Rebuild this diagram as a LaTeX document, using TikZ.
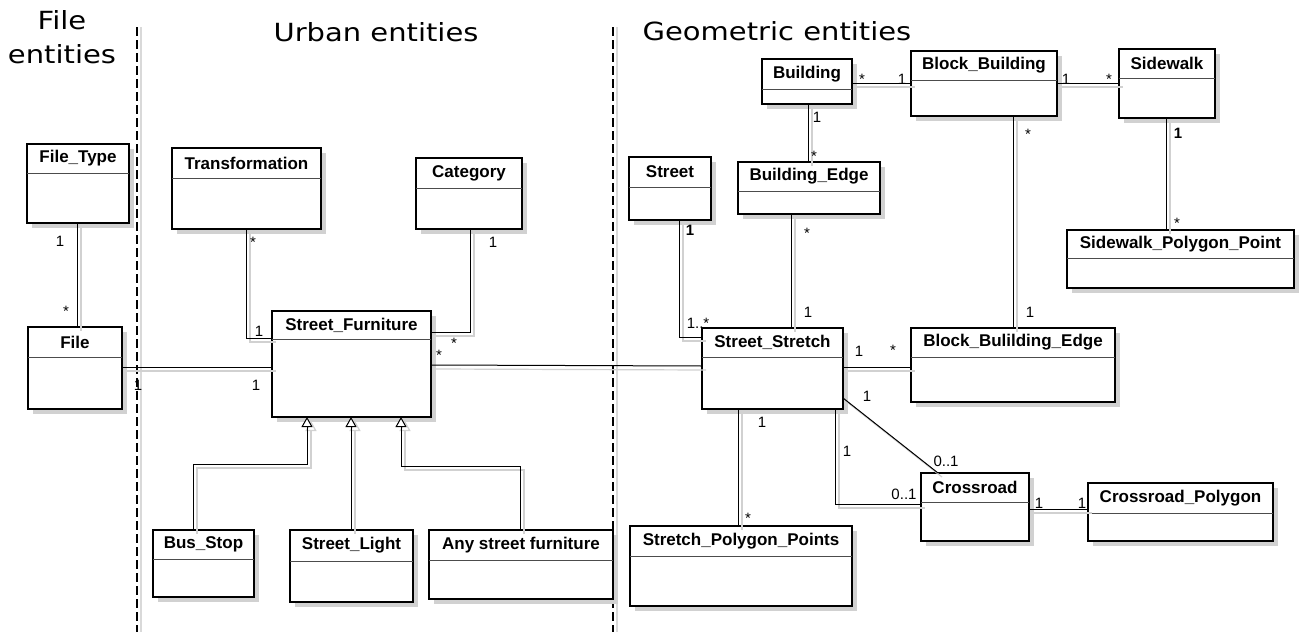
\documentclass[tikz,border=0pt]{standalone}
\usepackage{fontspec}
\setmainfont{Liberation Sans}
\newfontfamily\titlefont[FakeStretch=1.16]{DejaVu Sans}
\usetikzlibrary{arrows.meta}
\tikzset{
  box/.style={draw=black, fill=white, rectangle, inner sep=0pt, outer sep=0pt},
  shadowc/.style={fill=black!18},
  hdr/.style={draw=black!70, line width=0.8pt},
  cname/.style={font=\fontsize{17}{19}\selectfont\bfseries, inner sep=0pt},
  mult/.style={font=\fontsize{15}{16}\selectfont, inner sep=0pt},
  multb/.style={font=\fontsize{15}{16}\selectfont\bfseries, inner sep=0pt},
  conn/.style={draw=black, line width=1pt,
    preaction={draw=black!18, line width=1.2pt, transform canvas={shift={(4pt,-4pt)}}}},
  gen/.style={conn, -{Triangle[open, length=10pt, width=11pt, fill=white]}},
  sep/.style={draw=black, line width=1.6pt, dash pattern=on 9pt off 4pt},
  sepshadow/.style={draw=black!15, line width=1.5pt},
  title/.style={font=\titlefont\fontsize{25}{27}\selectfont, inner sep=0pt, anchor=base}
}
\newcommand\umlclass[8][2pt]{%
  \fill[shadowc] ({#3+5},{#4+5}) rectangle ({#5+5},{#6+5});
  \node[box, line width=#1, anchor=north west, minimum width={#5-#3}, minimum height={#6-#4}] (#2) at (#3,#4) {};
  \draw[hdr] (#3,#7) -- (#5,#7);
  \node[cname] at ({(#3+#5)/2},{(#4+#7)/2}) {#8};
}
\begin{document}
\begin{tikzpicture}[x=1pt,y=-1pt]
\useasboundingbox (0,0) rectangle (1299,632);
\fill[white] (0,0) rectangle (1299,632);

% separators
\draw[sepshadow] (141,27) -- (141,632);
\draw[sep] (137,27) -- (137,632);
\draw[sepshadow] (617,27) -- (617,632);
\draw[sep] (613,27) -- (613,632);

% titles
\node[title] (t1a) at (62,29) {File};
\node[title] (t1b) at (62,63) {entities};
\node[title] (t2) at (376,41) {Urban entities};
\node[title] (t3) at (777,40) {Geometric entities};

% classes
\umlclass{ft}{27}{144}{129}{223}{173}{File\_Type}
\umlclass{file}{28}{327}{122}{409}{357}{File}
\umlclass[2.6pt]{tr}{172}{148}{321}{229}{178}{Transformation}
\umlclass{cat}{416}{158}{522}{229}{188}{Category}
\umlclass[2.6pt]{sf}{272}{311}{431}{417}{339}{Street\_Furniture}
\umlclass{bus}{153}{530}{254}{597}{559}{Bus\_Stop}
\umlclass{sl}{290}{530}{413}{602}{561}{Street\_Light}
\umlclass{any}{429}{530}{613}{599}{560}{Any street furniture}

\umlclass{bld}{762}{59}{852}{104}{89}{Building}
\umlclass{bb}{911}{51}{1057}{116}{80}{Block\_Building}
\umlclass{sw}{1119}{49}{1215}{118}{78}{Sidewalk}
\umlclass{spp}{1067}{230}{1294}{288}{258}{Sidewalk\_Polygon\_Point}
\umlclass{st}{629}{157}{711}{220}{187}{Street}
\umlclass{be}{738}{162}{880}{214}{191}{Building\_Edge}
\umlclass{ss}{702}{328}{843}{409}{357}{Street\_Stretch}
\umlclass{bbe}{911}{328}{1115}{402}{357}{Block\_Bulilding\_Edge}
\umlclass{cr}{921}{473}{1029}{541}{502}{Crossroad}
\umlclass{cp}{1088}{483}{1273}{541}{513}{Crossroad\_Polygon}
\umlclass{stp}{630}{526}{852}{606}{556}{Stretch\_Polygon\_Points}

% connectors
\draw[conn] (ft.south -| 77,0) -- (file.north -| 77,0);
\draw[conn] (tr.south -| 246,0) |- (sf.west |- 0,338);
\draw[conn] (cat.south -| 470,0) |- (sf.east |- 0,332);
\draw[conn] (file.east |- 0,367) -- (sf.west |- 0,367);
\draw[conn] (sf.east |- 0,365) -- (ss.west |- 0,366);
\draw[gen] (bus.north -| 193,0) |- (307,464) -- (sf.south -| 307,0);
\draw[gen] (sl.north -| 351,0) -- (sf.south -| 351,0);
\draw[gen] (any.north -| 520,0) |- (401,466) -- (sf.south -| 401,0);

\draw[conn] (st.south -| 679,0) |- (ss.west |- 0,337);
\draw[conn] (be.south -| 791,0) -- (ss.north -| 791,0);
\draw[conn] (bld.south -| 808,0) -- (be.north -| 808,0);
\draw[conn] (bld.east |- 0,83) -- (bb.west |- 0,83);
\draw[conn] (bb.east |- 0,83) -- (sw.west |- 0,83);
\draw[conn] (sw.south -| 1166,0) -- (spp.north -| 1166,0);
\draw[conn] (bb.south -| 1013,0) -- (bbe.north -| 1013,0);
\draw[conn] (ss.east |- 0,367) -- (bbe.west |- 0,367);
\draw[conn] (ss.east |- 0,398) -- (cr.north -| 938,0);
\draw[conn] (ss.south -| 835,0) |- (cr.west |- 0,504);
\draw[conn] (ss.south -| 738,0) -- (stp.north -| 738,0);
\draw[conn] (cr.east |- 0,509) -- (cp.west |- 0,509);

% multiplicities
\node[mult] (m1) at (60,241) {1};
\node[mult] (m2) at (66,311) {*};
\node[mult] (m3) at (138,385) {1};
\node[mult] (m4) at (256,385) {1};
\node[mult] (m5) at (253,242) {*};
\node[mult] (m6) at (259,331) {1};
\node[mult] (m7) at (493,242) {1};
\node[mult] (m8) at (454,343) {*};
\node[mult] (m9) at (439,355) {*};
\node[multb] (m10) at (690,230) {1};
\node[mult] (m11) at (698,323) {1..*};
\node[mult] (m12) at (807,233) {*};
\node[mult] (m13) at (808,312) {1};
\node[mult] (m14) at (817,117) {1};
\node[mult] (m15) at (814,156) {*};
\node[mult] (m16) at (862,79) {*};
\node[mult] (m17) at (902,79) {1};
\node[mult] (m18) at (1066,79) {1};
\node[mult] (m19) at (1109,79) {*};
\node[multb] (m20) at (1178,133) {1};
\node[mult] (m21) at (1177,223) {*};
\node[mult] (m22) at (1028,134) {*};
\node[mult] (m23) at (1030,312) {1};
\node[mult] (m24) at (859,351) {1};
\node[mult] (m25) at (893,350) {*};
\node[mult] (m26) at (867,396) {1};
\node[mult] (m27) at (946,461) {0..1};
\node[mult] (m28) at (847,451) {1};
\node[mult] (m29) at (904,494) {0..1};
\node[mult] (m30) at (762,422) {1};
\node[mult] (m31) at (748,518) {*};
\node[mult] (m32) at (1039,503) {1};
\node[mult] (m33) at (1082,503) {1};
\end{tikzpicture}
\end{document}
